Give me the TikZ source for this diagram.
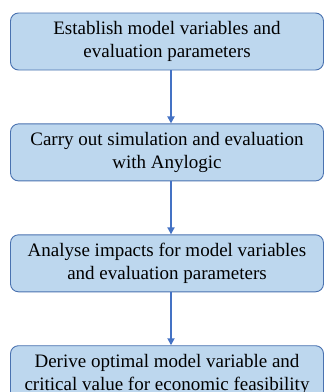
\documentclass[tikz,border=0pt]{standalone}
\usepackage{fontspec}
\setmainfont{Liberation Serif}
\usetikzlibrary{positioning,arrows.meta}

\definecolor{boxfill}{HTML}{BDD7EE}
\definecolor{boxline}{HTML}{4A72B0}
\definecolor{arrowblue}{HTML}{4472C4}

\tikzset{
    stagebox/.style={draw=boxline, line width=0.9pt, fill=boxfill, rounded corners=8pt,
        minimum width=313pt, minimum height=57pt, inner sep=0pt,
        align=center, font=\fontsize{19}{23}\selectfont},
    flowarrow/.style={-{Triangle[length=7pt,width=7pt]}, arrowblue, line width=1.8pt}
}

\begin{document}
\begin{tikzpicture}[node distance=53pt]
    % cadre de l'image
    \clip (0,0) rectangle (325pt,-392pt);
    \useasboundingbox (0,0) rectangle (325pt,-392pt);

    % Etapes
    \node[stagebox] (establish) at (167pt,-41.5pt) {Establish model variables and\\evaluation parameters};
    \node[stagebox, below=of establish] (simulate) {Carry out simulation and evaluation\\with Anylogic};
    \node[stagebox, below=of simulate] (analyse) {Analyse impacts for model variables\\and evaluation parameters};
    \node[stagebox, below=of analyse] (derive) {Derive optimal model variable and\\critical value for economic feasibility};

    % Fleches (un peu a droite du centre)
    \draw[flowarrow] ([xshift=4pt]establish.south) -- ([xshift=4pt]simulate.north);
    \draw[flowarrow] ([xshift=4pt]simulate.south) -- ([xshift=4pt]analyse.north);
    \draw[flowarrow] ([xshift=4pt]analyse.south) -- ([xshift=4pt]derive.north);
\end{tikzpicture}
\end{document}
